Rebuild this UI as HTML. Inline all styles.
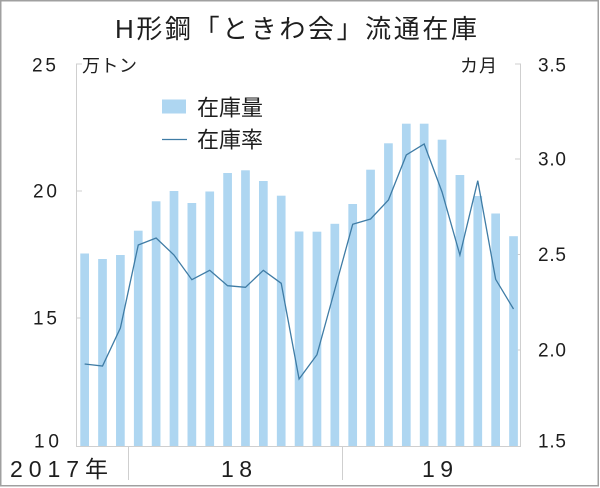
<!DOCTYPE html>
<html><head><meta charset="utf-8"><style>
html,body{margin:0;padding:0;background:#fff;}
svg{display:block;}
text{font-family:"Liberation Sans","Noto Sans CJK JP",sans-serif;fill:#1e1e1e;}
</style></head><body>
<svg width="600" height="488" viewBox="0 0 600 488" xmlns="http://www.w3.org/2000/svg">
<rect x="0.75" y="0.75" width="597.5" height="485" fill="#fff" stroke="#a0a0a0" stroke-width="1.5"/>
<text x="115" y="38" font-size="26" textLength="362" lengthAdjust="spacing">H形鋼「ときわ会」流通在庫</text>
<text x="82" y="72" font-size="18" textLength="55" lengthAdjust="spacing">万トン</text>
<text x="460" y="72" font-size="18" textLength="37" lengthAdjust="spacing">カ月</text>
<g font-size="19">
<text x="32" y="71.5" textLength="24" lengthAdjust="spacing">25</text>
<text x="33" y="197.5" textLength="24" lengthAdjust="spacing">20</text>
<text x="33" y="324.5" textLength="24" lengthAdjust="spacing">15</text>
<text x="34" y="447.5" textLength="25" lengthAdjust="spacing">10</text>
</g>
<g font-size="19">
<text x="538" y="71.5" textLength="28" lengthAdjust="spacing">3.5</text>
<text x="538" y="165.5" textLength="28" lengthAdjust="spacing">3.0</text>
<text x="538" y="261" textLength="28" lengthAdjust="spacing">2.5</text>
<text x="538" y="356.5" textLength="28" lengthAdjust="spacing">2.0</text>
<text x="538" y="447.5" textLength="28" lengthAdjust="spacing">1.5</text>
</g>
<g stroke="#cfcfcf" stroke-width="1" fill="none">
<line x1="76.5" y1="63.5" x2="76.5" y2="446"/>
<line x1="520.5" y1="63.5" x2="520.5" y2="446"/>
<line x1="76" y1="446.5" x2="521" y2="446.5"/>
<line x1="76" y1="64" x2="82" y2="64"/>
<line x1="76" y1="191" x2="82" y2="191"/>
<line x1="76" y1="318" x2="82" y2="318"/>
<line x1="515" y1="64" x2="521" y2="64"/>
<line x1="515" y1="159" x2="521" y2="159"/>
<line x1="515" y1="254.5" x2="521" y2="254.5"/>
<line x1="515" y1="350" x2="521" y2="350"/>
<line x1="128.5" y1="446" x2="128.5" y2="480"/>
<line x1="342.5" y1="446" x2="342.5" y2="480"/>
</g>
<g fill="#aed6f1">
<rect x="80.29" y="253.5" width="8.7" height="192.5"/>
<rect x="98.16" y="259" width="8.7" height="187"/>
<rect x="116.03" y="255" width="8.7" height="191"/>
<rect x="133.90" y="230.7" width="8.7" height="215.3"/>
<rect x="151.77" y="201.3" width="8.7" height="244.7"/>
<rect x="169.64" y="191" width="8.7" height="255"/>
<rect x="187.51" y="203" width="8.7" height="243"/>
<rect x="205.38" y="191.5" width="8.7" height="254.5"/>
<rect x="223.25" y="173" width="8.7" height="273"/>
<rect x="241.12" y="170.3" width="8.7" height="275.7"/>
<rect x="258.99" y="181" width="8.7" height="265"/>
<rect x="276.86" y="195.7" width="8.7" height="250.3"/>
<rect x="294.73" y="231.5" width="8.7" height="214.5"/>
<rect x="312.60" y="231.7" width="8.7" height="214.3"/>
<rect x="330.47" y="223.8" width="8.7" height="222.2"/>
<rect x="348.34" y="204" width="8.7" height="242"/>
<rect x="366.21" y="169.7" width="8.7" height="276.3"/>
<rect x="384.08" y="143.3" width="8.7" height="302.7"/>
<rect x="401.95" y="123.7" width="8.7" height="322.3"/>
<rect x="419.82" y="123.7" width="8.7" height="322.3"/>
<rect x="437.69" y="139.7" width="8.7" height="306.3"/>
<rect x="455.56" y="175" width="8.7" height="271"/>
<rect x="473.43" y="196" width="8.7" height="250"/>
<rect x="491.30" y="213.5" width="8.7" height="232.5"/>
<rect x="509.17" y="236.2" width="8.7" height="209.8"/>
</g>
<polyline fill="none" stroke="#3f7ca5" stroke-width="1.3" stroke-linejoin="miter" points="84.64,364 102.51,366 120.38,328 138.25,245 156.12,238 173.99,255 191.86,279.7 209.73,270.3 227.60,285.7 245.47,287.3 263.34,270.3 281.21,283.3 299.08,379 316.95,354.7 334.82,289.5 352.69,224.3 370.56,219 388.43,200 406.30,155 424.17,144 442.04,192 459.91,255 477.78,180.7 495.65,279.3 513.52,309"/>
<rect x="162" y="99.5" width="24" height="14" fill="#aed6f1"/>
<line x1="162" y1="139.5" x2="187" y2="139.5" stroke="#3f7ca5" stroke-width="1.3"/>
<text x="197" y="115.4" font-size="22">在庫量</text>
<text x="197" y="147.4" font-size="22">在庫率</text>
<text x="10" y="477" font-size="23" textLength="98" lengthAdjust="spacing">2017年</text>
<text x="221" y="477" font-size="23" textLength="31" lengthAdjust="spacing">18</text>
<text x="422" y="477" font-size="23" textLength="31" lengthAdjust="spacing">19</text>
</svg>
</body></html>
